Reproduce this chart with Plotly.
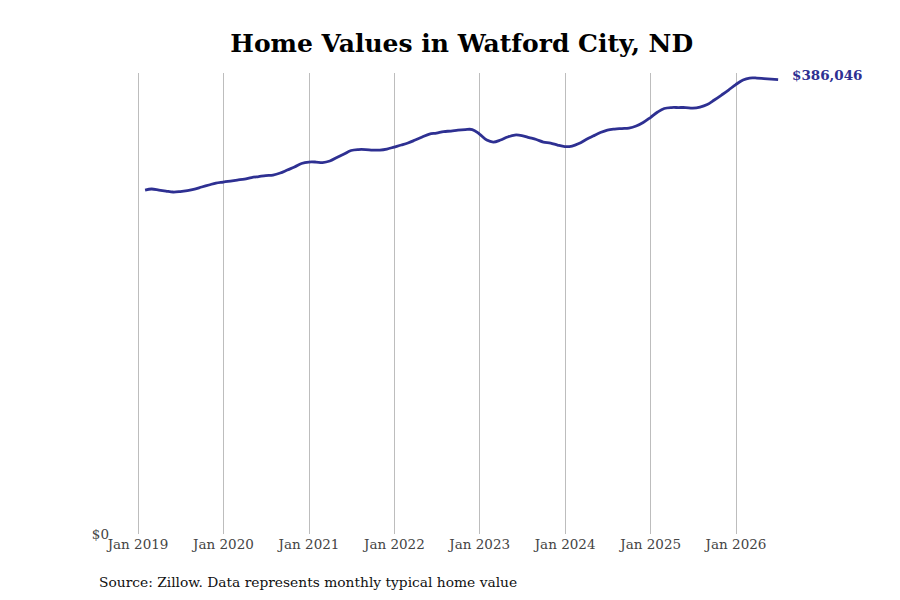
import pandas as pd
import plotly.graph_objects as go

# месячные значения (конец месяца), янв 2019 - июн 2026
dates = pd.date_range("2019-01-31", "2026-06-30", freq="ME")
values = [
    292194, 293043, 292194, 291344, 290495, 290920, 291769, 293043, 294742, 296441, 298139, 298989,
    299838, 300688, 301537, 302811, 303661, 304510, 304935, 306633, 309182, 311730, 314703, 315977,
    315977, 315552, 316826, 319799, 322772, 325745, 326594, 326594, 326170, 326170, 327019, 328718,
    330417, 332115, 334664, 337212, 339760, 340609, 341884, 342308, 343158, 343582, 343582, 339760,
    334664, 332965, 334664, 337212, 338911, 338486, 336787, 335088, 332965, 332115, 330417, 329143,
    329567, 331691, 335088, 338061, 341034, 343158, 344007, 344432, 344856, 346555, 349528, 353775,
    358447, 361420, 362269, 362269, 362269, 361844, 362694, 364817, 368640, 372887, 377134, 381805,
    385628, 387326, 387326, 386902, 386477, 386046,
]
tick_dates = [f"{y}-01-01" for y in range(2019, 2027)]
tick_labels = [f"Jan {y}" for y in range(2019, 2027)]

line_color = "#2e3092"

fig = go.Figure()
fig.add_trace(go.Scatter(
    x=dates,
    y=values,
    mode="lines",
    line=dict(color=line_color, width=2.8, shape="spline"),
    hoverinfo="skip",
))

# подпись последнего значения
fig.add_annotation(
    x=dates[-1], y=values[-1],
    text=f"${values[-1]:,}",
    showarrow=False,
    xanchor="left", yanchor="middle",
    xshift=12, yshift=5,
    font=dict(family="DejaVu Serif", size=13.5, color=line_color, weight="bold"),
)

# источник (координаты в долях области графика)
fig.add_annotation(
    x=(97 - 110) / 670, y=-(582 - 534) / 461, xref="paper", yref="paper",
    xanchor="left", yanchor="middle",
    text="Source: Zillow. Data represents monthly typical home value",
    showarrow=False,
    font=dict(family="DejaVu Serif", size=13.8, color="#111111"),
)

fig.update_layout(
    width=900, height=600,
    margin=dict(l=110, r=120, t=73, b=66),
    paper_bgcolor="white",
    plot_bgcolor="white",
    showlegend=False,
    title=dict(
        text="<b>Home Values in Watford City, ND</b>",
        x=0.513, xanchor="center", y=0.928, yanchor="middle",
        font=dict(family="DejaVu Serif", size=25, color="black"),
    ),
    xaxis=dict(
        range=["2018-09-03", "2026-07-08"],
        tickvals=tick_dates,
        ticktext=tick_labels,
        showgrid=True, gridcolor="#bdbdbd", gridwidth=1,
        showline=False, zeroline=False,
        tickfont=dict(family="DejaVu Serif", size=13.5, color="#444444"),
    ),
    yaxis=dict(
        range=[0, 391600],
        tickvals=[0],
        ticktext=["$0"],
        showgrid=False, zeroline=False, showline=False,
        tickfont=dict(family="DejaVu Serif", size=13.5, color="#444444"),
    ),
)

# убираем отступ body, чтобы картинка начиналась с угла окна
fig.write_html(
    "out.html",
    config={"displayModeBar": False},
    post_script="document.body.style.margin='0';",
)
